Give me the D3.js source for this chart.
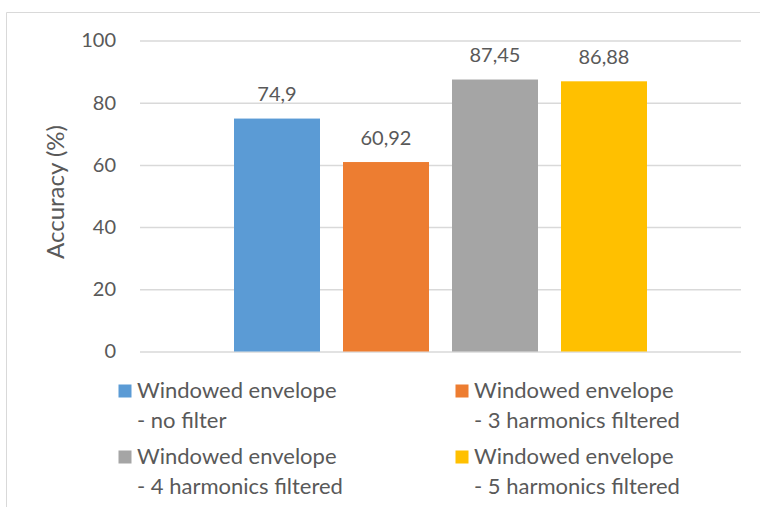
<!DOCTYPE html>
<html>
<head>
<meta charset="utf-8">
<script src="https://cdn.jsdelivr.net/npm/d3@7"></script>
<style>
  html, body { margin: 0; padding: 0; background: #ffffff; }
  svg { display: block; }
  text { font-family: Lato, "Open Sans", sans-serif; fill: #595959; }
</style>
</head>
<body>
<svg id="chart" width="760" height="507"></svg>
<script>
// Accuracy of each envelope variant
const seriesNames = [
  "Windowed envelope - no filter",
  "Windowed envelope - 3 harmonics filtered",
  "Windowed envelope - 4 harmonics filtered",
  "Windowed envelope - 5 harmonics filtered"
];
const legendLines = [
  ["Windowed envelope", "- no filter"],
  ["Windowed envelope", "- 3 harmonics filtered"],
  ["Windowed envelope", "- 4 harmonics filtered"],
  ["Windowed envelope", "- 5 harmonics filtered"]
];
const accuracy = [74.9, 60.92, 87.45, 86.88];
const valueLabels = ["74,9", "60,92", "87,45", "86,88"];
const seriesColors = ["#5b9bd5", "#ed7d31", "#a5a5a5", "#ffc000"];
const yTicks = [0, 20, 40, 60, 80, 100];
const yTitle = "Accuracy (%)";

const svg = d3.select("#chart");

// chart area outline (top and left edges visible)
svg.append("path")
  .attr("d", "M6.5,507 L6.5,12.5 L760,12.5")
  .attr("fill", "none")
  .attr("stroke", "#d9d9d9")
  .attr("stroke-width", 1);

const plot = { left: 140, right: 741, top: 40.5, bottom: 351.5 };

const y = d3.scaleLinear().domain([0, 100]).range([plot.bottom, plot.top]);

// one cluster of four bars centred in the plot area
const centre = (plot.left + plot.right) / 2;
const x = d3.scaleBand()
  .domain(seriesNames)
  .range([centre - 218, centre + 218])
  .paddingInner(0.211)
  .paddingOuter(0.1055);

// horizontal gridlines
const grid = svg.append("g")
  .attr("transform", `translate(${plot.left},0)`)
  .call(d3.axisLeft(y).tickValues(yTicks).tickSize(-(plot.right - plot.left)).tickFormat(""));
grid.select(".domain").remove();
grid.selectAll(".tick line").attr("stroke", "#d9d9d9").attr("stroke-width", 1.5);

// y tick labels
const yAxis = svg.append("g")
  .attr("transform", `translate(116,0)`)
  .call(d3.axisLeft(y).tickValues(yTicks).tickSize(0).tickPadding(0).tickFormat(d3.format("d")));
yAxis.select(".domain").remove();
yAxis.selectAll(".tick text")
  .attr("font-size", 20)
  .style("font-family", "Lato, sans-serif")
  .attr("fill", "#595959");

// axis title
svg.append("text")
  .attr("transform", `translate(64,192) rotate(-90)`)
  .attr("text-anchor", "middle")
  .attr("font-size", 24)
  .text(yTitle);

// bars
svg.append("g").selectAll("rect")
  .data(seriesNames)
  .join("rect")
  .attr("x", d => x(d))
  .attr("width", x.bandwidth())
  .attr("y", (d, i) => y(accuracy[i]))
  .attr("height", (d, i) => y(0) - y(accuracy[i]))
  .attr("fill", (d, i) => seriesColors[i]);

// value labels
svg.append("g").selectAll("text")
  .data(seriesNames)
  .join("text")
  .attr("x", d => x(d) + x.bandwidth() / 2)
  .attr("y", (d, i) => y(accuracy[i]) - 17.5)
  .attr("text-anchor", "middle")
  .attr("font-size", 20)
  .text((d, i) => valueLabels[i]);

// legend: two columns, two rows, two text lines per entry
const legendCols = [118.5, 455.5];
const legendRows = [398, 464];
const lineGap = 29.5;
const legend = svg.append("g");
seriesNames.forEach((name, i) => {
  const cx = legendCols[i % 2];
  const by = legendRows[Math.floor(i / 2)];
  const g = legend.append("g");
  g.append("rect")
    .attr("x", cx)
    .attr("y", by - 13.5)
    .attr("width", 13)
    .attr("height", 13)
    .attr("fill", seriesColors[i]);
  g.append("text")
    .attr("x", cx + 18.5)
    .attr("y", by)
    .attr("font-size", 22)
    .text(legendLines[i][0]);
  g.append("text")
    .attr("x", cx + 18.5)
    .attr("y", by + lineGap)
    .attr("font-size", 22)
    .text(legendLines[i][1]);
});
</script>
</body>
</html>
